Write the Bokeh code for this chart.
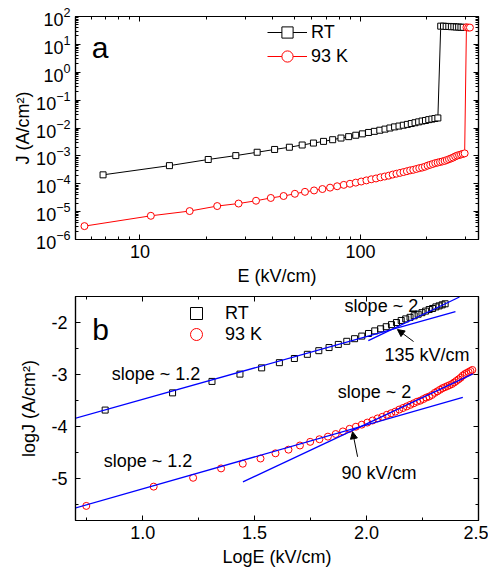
import numpy as np
from bokeh.plotting import figure
from bokeh.layouts import column
from bokeh.models import (LogAxis, LinearAxis, FixedTicker, SingleIntervalTicker,
                          LogTickFormatter, PrintfTickFormatter, Legend, LegendItem,
                          Arrow, NormalHead, Label, CustomJSTickFormatter)
from bokeh.core.properties import value
from bokeh.embed import file_html
from bokeh.resources import INLINE

FONT = "Liberation Sans"

# ---------------- data ----------------
E_rt = [6.8, 13.6, 20.4, 27.2, 34.0, 40.8, 47.6, 54.4, 61.2, 68.0, 74.8, 81.6,
        88.4, 95.2, 102.0, 108.8, 115.6, 122.4, 129.2, 136.0, 142.8, 149.6,
        156.4, 163.2, 170.0, 176.8, 183.6, 190.4, 197.2, 204.0, 210.8, 217.6, 224.4]
logJ_rt = [-3.68, -3.35, -3.13, -2.99, -2.87, -2.77, -2.69, -2.61, -2.54, -2.48,
           -2.42, -2.36, -2.31, -2.26, -2.21, -2.16, -2.12, -2.08, -2.04, -2.00,
           -1.96, -1.93, -1.90, -1.87, -1.84, -1.81, -1.78, -1.75, -1.73, -1.70,
           -1.68, -1.66, -1.64]
E_rt_bd = [231.2, 238.0, 244.8, 251.6, 258.4, 265.2, 272.0, 278.8, 285.6, 292.4]
J_rt_bd = [45, 45, 44, 44, 43, 43, 42, 42, 41, 41]

E_93 = [5.6, 11.2, 16.8, 22.4, 28.0, 33.6, 39.2, 44.8, 50.4, 56.0, 61.6, 67.2,
        72.8, 78.4, 84.0, 89.6, 95.2, 100.8, 106.4, 112.0, 117.6, 123.2, 128.8,
        134.4, 140.0, 145.6, 151.2, 156.8, 162.4, 168.0, 173.6, 179.2, 184.8,
        190.4, 196.0, 201.6, 207.2, 212.8, 218.4, 224.0, 229.6, 235.2, 240.8,
        246.4, 252.0, 257.6, 263.2, 268.8, 274.4, 280.0, 285.6, 291.2, 296.8]
logJ_93 = [-5.52, -5.15, -4.98, -4.80, -4.71, -4.61, -4.51, -4.44, -4.36, -4.29,
           -4.24, -4.19, -4.14, -4.09, -4.04, -4.00, -3.96, -3.92, -3.88, -3.84,
           -3.81, -3.77, -3.74, -3.71, -3.67, -3.64, -3.61, -3.58, -3.55, -3.52,
           -3.50, -3.47, -3.44, -3.42, -3.39, -3.35, -3.32, -3.29, -3.26, -3.24,
           -3.22, -3.20, -3.18, -3.15, -3.12, -3.09, -3.06, -3.02, -2.99, -2.97,
           -2.95, -2.93, -2.91]
E_93_bd = [302.4, 308.0, 313.6]
J_93_bd = [41, 40, 40]

# linear fits in panel b (logE, logJ end points)
fit_rt_low_x, fit_rt_low_y = [0.597, 2.397], [-3.96, -1.79]
fit_rt_high_x, fit_rt_high_y = [2.008, 2.415], [-2.346, -1.51]
fit_93_low_x, fit_93_low_y = [0.652, 2.43], [-5.62, -3.437]
fit_93_high_x, fit_93_high_y = [1.448, 2.475], [-5.06, -2.987]

labels = ["RT", "93 K"]

# ---------------- derived ----------------
J_rt = list(10 ** np.array(logJ_rt))
J_93 = list(10 ** np.array(logJ_93))
logE_rt = list(np.log10(E_rt))
logE_93 = list(np.log10(E_93))

BLANK = "return ''"


def style(p):
    p.outline_line_color = "black"
    p.outline_line_width = 1.2
    p.xgrid.grid_line_color = None
    p.ygrid.grid_line_color = None
    p.background_fill_color = "white"
    p.border_fill_color = "white"
    for ax in p.axis:
        ax.major_tick_in = 5
        ax.major_tick_out = 0
        ax.minor_tick_in = 3
        ax.minor_tick_out = 0
        ax.axis_line_color = "black"
        ax.axis_line_width = 1.2
        ax.major_tick_line_color = "black"
        ax.minor_tick_line_color = "black"
        ax.major_label_text_font = FONT
        ax.major_label_text_color = "black"
        ax.major_label_text_font_size = "18px"
        ax.axis_label_text_font = FONT
        ax.axis_label_text_font_style = "normal"
        ax.axis_label_text_color = "black"
        ax.axis_label_text_font_size = "18px"


def one_legend(item, x, y, gw, gh, standoff):
    return Legend(items=[item], location=(x, y), border_line_color=None,
                  background_fill_alpha=0, padding=1, spacing=0, glyph_width=gw,
                  glyph_height=gh, label_height=20, label_standoff=standoff,
                  label_text_font=FONT, label_text_font_size="18px",
                  label_text_color="black", margin=0)


# ---------------- panel a ----------------
xmaj = [10, 100]
xmin = [6, 7, 8, 9] + [m * 10 for m in range(2, 10)] + [200, 300]
ymaj = [10.0 ** k for k in range(-6, 3)]
ymin = [m * 10.0 ** k for k in range(-6, 2) for m in range(2, 10)]

p1 = figure(x_axis_type="log", y_axis_type="log", x_range=(5.1, 343), y_range=(1e-6, 1e2),
            frame_width=403, frame_height=223, min_border_left=75, min_border_right=10,
            min_border_top=16, min_border_bottom=48,
            output_backend="svg", toolbar_location=None)
p1.xaxis.ticker = FixedTicker(ticks=xmaj, minor_ticks=xmin)
p1.xaxis.formatter = PrintfTickFormatter(format="%d")
p1.yaxis.ticker = FixedTicker(ticks=ymaj, minor_ticks=ymin)
p1.yaxis.formatter = LogTickFormatter()
p1.xaxis.axis_label = "E (kV/cm)"
p1.yaxis.axis_label = "J (A/cm²)"
ta = LogAxis(ticker=FixedTicker(ticks=xmaj, minor_ticks=xmin),
             formatter=CustomJSTickFormatter(code=BLANK), major_label_standoff=0)
ra = LogAxis(ticker=FixedTicker(ticks=ymaj, minor_ticks=ymin),
             formatter=CustomJSTickFormatter(code=BLANK), major_label_standoff=0)
p1.add_layout(ta, "above")
p1.add_layout(ra, "right")
style(p1)
p1.xaxis[0].major_label_standoff = 2
p1.xaxis[0].major_label_text_line_height = 0.75
p1.xaxis[0].axis_label_standoff = 0
p1.xaxis[0].axis_label_text_line_height = 0.7
p1.yaxis[0].major_label_standoff = 5
p1.yaxis[0].axis_label_standoff = 0
p1.yaxis[0].axis_label_text_line_height = 0.7

l_rt = p1.line(E_rt + E_rt_bd, J_rt + J_rt_bd, line_color="black", line_width=1)
s_rt = p1.scatter(E_rt + E_rt_bd, J_rt + J_rt_bd, marker="square", size=6,
                  line_color="black", fill_color="white", line_width=1)
l_93 = p1.line(E_93 + E_93_bd, J_93 + J_93_bd, line_color="red", line_width=1)
s_93 = p1.scatter(E_93 + E_93_bd, J_93 + J_93_bd, marker="circle", size=7,
                  line_color="red", fill_color="white", line_width=1)

p1.add_layout(one_legend(LegendItem(label=labels[0], renderers=[l_rt, s_rt]),
                         192, 193, 40, 28, 4))
p1.add_layout(one_legend(LegendItem(label=labels[1], renderers=[l_93, s_93]),
                         192, 169, 40, 28, 4))
p1.add_layout(Label(x=6.05, y=7.55, text="a", text_font=FONT, text_font_size="30px",
                    text_baseline="alphabetic", text_color="black"))

# ---------------- panel b ----------------
p2 = figure(x_range=(0.7, 2.5), y_range=(-5.8, -1.5),
            frame_width=403, frame_height=224, min_border_left=75, min_border_right=10,
            min_border_top=8, min_border_bottom=50,
            output_backend="svg", toolbar_location=None)
p2.xaxis.ticker = SingleIntervalTicker(interval=0.5, num_minor_ticks=2)
p2.yaxis.ticker = SingleIntervalTicker(interval=1, num_minor_ticks=2)
p2.xaxis.formatter = PrintfTickFormatter(format="%.1f")
p2.yaxis.formatter = PrintfTickFormatter(format="%d")
p2.xaxis.axis_label = "LogE (kV/cm)"
p2.yaxis.axis_label = "logJ (A/cm²)"
p2.add_layout(LinearAxis(ticker=SingleIntervalTicker(interval=0.5, num_minor_ticks=2),
                         formatter=CustomJSTickFormatter(code=BLANK),
                         major_label_standoff=0), "above")
p2.add_layout(LinearAxis(ticker=SingleIntervalTicker(interval=1, num_minor_ticks=2),
                         formatter=CustomJSTickFormatter(code=BLANK),
                         major_label_standoff=0), "right")
style(p2)
p2.xaxis[0].major_label_standoff = 4
p2.xaxis[0].axis_label_standoff = 4
p2.yaxis[0].major_label_standoff = 8
p2.yaxis[0].axis_label_standoff = 9

b_rt = p2.scatter(logE_rt, logJ_rt, marker="square", size=6, line_color="black",
                  fill_color=None, line_width=1)
b_93 = p2.scatter(logE_93, logJ_93, marker="circle", size=7, line_color="red",
                  fill_color=None, line_width=1)
for fx, fy in [(fit_rt_low_x, fit_rt_low_y), (fit_rt_high_x, fit_rt_high_y),
               (fit_93_low_x, fit_93_low_y), (fit_93_high_x, fit_93_high_y)]:
    p2.line(fx, fy, line_color="blue", line_width=1.3)

p2.add_layout(one_legend(LegendItem(label=labels[0], renderers=[b_rt]), 106, 192, 30, 30, 14))
p2.add_layout(one_legend(LegendItem(label=labels[1], renderers=[b_93]), 106, 171, 30, 30, 14))

ann_text = ["slope ~ 1.2", "slope ~ 1.2", "slope ~ 2", "135 kV/cm", "slope ~ 2", "90 kV/cm"]
ann_x = [0.862, 0.826, 1.902, 2.080, 1.871, 1.888]
ann_y = [-2.98, -4.654, -1.673, -2.615, -3.327, -4.885]
p2.text(x=ann_x, y=ann_y, text=ann_text, text_font=value(FONT), text_font_size="18px",
        text_baseline="middle", text_align="left", text_color="black")

p2.add_layout(Arrow(end=NormalHead(size=7, fill_color="black", line_color="black"),
                    x_start=2.21, y_start=-2.365, x_end=2.138, y_end=-2.135,
                    line_color="black", line_width=1))
p2.add_layout(Arrow(end=NormalHead(size=7, fill_color="black", line_color="black"),
                    x_start=1.96, y_start=-4.577, x_end=1.9375, y_end=-4.096,
                    line_color="black", line_width=1))
p2.add_layout(Label(x=0.775, y=-2.135, text="b", text_font=FONT, text_font_size="30px",
                    text_baseline="alphabetic", text_color="black"))

layout = column(p1, p2, spacing=0)
open("out.html", "w").write(file_html(layout, INLINE))
